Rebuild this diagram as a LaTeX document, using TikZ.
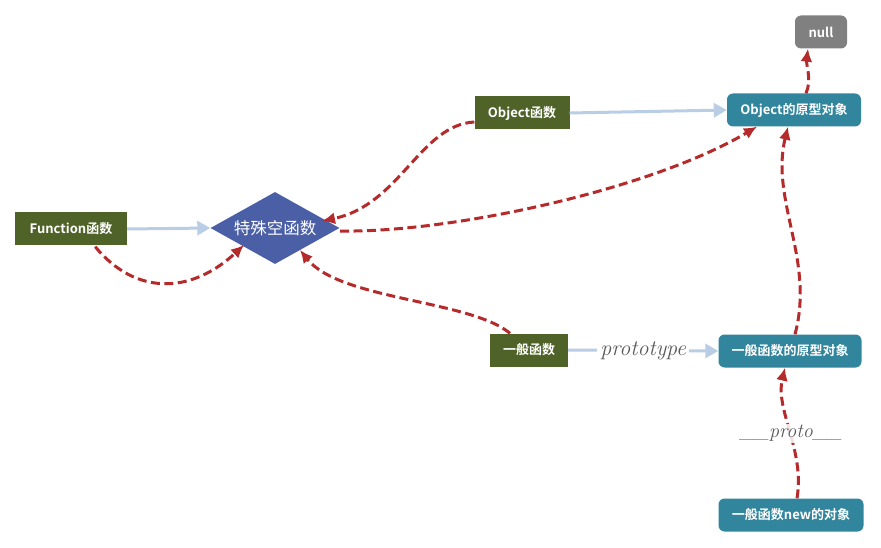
\documentclass[tikz,border=0pt]{standalone}
\usepackage{fontspec}
\newfontfamily\cjk{Noto Sans CJK SC}[BoldFont={Noto Sans CJK SC Bold}]
\usetikzlibrary{shapes.geometric,arrows.meta}
\definecolor{olive}{HTML}{4F6228}
\definecolor{teal}{HTML}{31859C}
\definecolor{grayb}{HTML}{808080}
\definecolor{dia}{HTML}{4A5FA6}
\definecolor{lblue}{HTML}{B9CDE5}
\definecolor{dred}{HTML}{B52A2A}
\begin{document}
\begin{tikzpicture}[x=1pt,y=-1pt,
  box/.style={minimum height=33pt,inner sep=0pt,text=white,font=\cjk\bfseries\fontsize{13}{15}\selectfont},
  fn/.style={box,fill=olive},
  proto/.style={box,fill=teal,rounded corners=6pt},
  nul/.style={box,fill=grayb,rounded corners=6pt},
  blue/.style={draw=lblue,line width=3pt,-{Triangle[length=13pt,width=14pt]}},
  red/.style={draw=dred,line width=3pt,dash pattern=on 9pt off 4.5pt,-{Latex[length=13pt,width=12pt]}},
  lab/.style={font=\itshape\fontsize{22}{24}\selectfont,text=black!65,inner sep=1pt}]
\useasboundingbox (0,0) rectangle (881,548);
\node[nul,minimum width=52pt] (null) at (821,32) {null};
\node[proto,minimum width=134pt] (op) at (794,110) {Object的原型对象};
\node[fn,minimum width=95pt] (of) at (522,113) {Object函数};
\node[fn,minimum width=112pt] (ff) at (71,229) {Function函数};
\node[diamond,fill=dia,text=white,minimum width=129pt,minimum height=72pt,inner sep=0pt,aspect=1.8,font=\cjk\fontsize{16.5}{18}\selectfont] (sp) at (275,228) {特殊空函数};
\node[fn,minimum width=78pt] (gf) at (529,350) {一般函数};
\node[proto,minimum width=143pt] (gp) at (790,351) {一般函数的原型对象};
\node[proto,minimum width=145pt] (gn) at (791,515) {一般函数new的对象};
\coordinate (spR) at (340,231);
\coordinate (spUR) at (322,221);
\coordinate (spLL) at (244,245);
\coordinate (spLR) at (300,250);
% blue arrows
\draw[blue] (ff.east) -- (sp.west);
\draw[blue] (of.east) -- (op.west);
\draw[blue] (gf.east) -- node[lab,fill=white,inner xsep=3pt]{prototype} (gp.west);
% red dashed
\draw[red] (ff.south east) ++(-32,1) .. controls (135,295) and (190,295) .. (spLL);
\draw[red] (of.west) ++(0,9) .. controls (420,125) and (400,205) .. (spUR);
\draw[red] (spR) .. controls (450,233) and (650,190) .. ([xshift=-37pt]op.south);
\draw[red] ([xshift=-19pt]gf.north) .. controls (470,300) and (340,300) .. (spLR);
\draw[red] ([xshift=5pt]gp.north) .. controls (815,260) and (770,200) .. ([xshift=-6pt]op.south);
\draw[red] ([xshift=6pt]gn.north) .. controls (805,450) and (775,410) .. node[pos=0.48,lab,font=\itshape\fontsize{20}{22}\selectfont,fill=white,fill opacity=0.85,text opacity=1]{\_\_proto\_\_} ([xshift=-5pt]gp.south);
\draw[red] ([xshift=12pt]op.north) .. controls (812,80) and (806,65) .. ([xshift=-13pt]null.south);
\end{tikzpicture}
\end{document}
